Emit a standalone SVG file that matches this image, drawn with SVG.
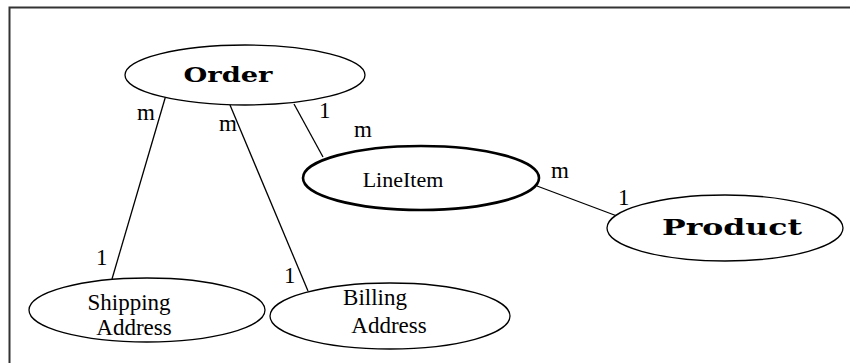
<svg xmlns="http://www.w3.org/2000/svg" width="850" height="363" viewBox="0 0 850 363">
<style>
.n{fill:#fff;stroke:#000;stroke-width:1.3}
.thick{stroke-width:2.6}
.c{stroke:#000;stroke-width:1.3;fill:none}
text{font-family:'Liberation Serif','Times New Roman',Times,serif;fill:#000}
.b{font-family:'DejaVu Serif','Liberation Serif',serif;font-weight:bold}
.l{font-size:23px}
</style>
<rect width="850" height="363" fill="#fff"/>
<path d="M9.5,363 V7.5 H850" fill="none" stroke="#333" stroke-width="2"/>
<g id="connectors">
<line class="c" x1="166" y1="95" x2="112" y2="279"/>
<line class="c" x1="230" y1="105" x2="308" y2="291"/>
<line class="c" x1="294" y1="104" x2="323" y2="157"/>
<line class="c" x1="537" y1="186" x2="617" y2="216"/>
</g>
<g id="labels">
<text class="l" x="137" y="120">m</text>
<text class="l" x="219" y="131">m</text>
<text class="l" x="319" y="118" font-size="24">1</text>
<text class="l" x="354" y="137">m</text>
<text class="l" x="551" y="178">m</text>
<text class="l" x="618" y="205">1</text>
<text class="l" x="96" y="265">1</text>
<text class="l" x="284" y="283">1</text>
</g>
<g id="order">
<ellipse class="n" cx="245" cy="75" rx="120" ry="30"/>
<text class="b" x="228" y="82" font-size="20" text-anchor="middle" textLength="89" lengthAdjust="spacingAndGlyphs">Order</text>
</g>
<g id="lineitem">
<ellipse class="n thick" cx="421" cy="178" rx="118" ry="32"/>
<text x="403" y="187" font-size="22" text-anchor="middle">LineItem</text>
</g>
<g id="product">
<ellipse class="n" cx="725" cy="228" rx="118" ry="33"/>
<text class="b" x="732" y="235" font-size="23" text-anchor="middle" textLength="140" lengthAdjust="spacingAndGlyphs">Product</text>
</g>
<g id="shipping">
<ellipse class="n" cx="147" cy="310" rx="118" ry="32"/>
<text x="129" y="310" font-size="23" text-anchor="middle">Shipping</text>
<text x="134" y="335" font-size="23" text-anchor="middle">Address</text>
</g>
<g id="billing">
<ellipse class="n" cx="390" cy="316" rx="120" ry="33"/>
<text x="375" y="305" font-size="23" text-anchor="middle">Billing</text>
<text x="389" y="333" font-size="23" text-anchor="middle">Address</text>
</g>
</svg>
